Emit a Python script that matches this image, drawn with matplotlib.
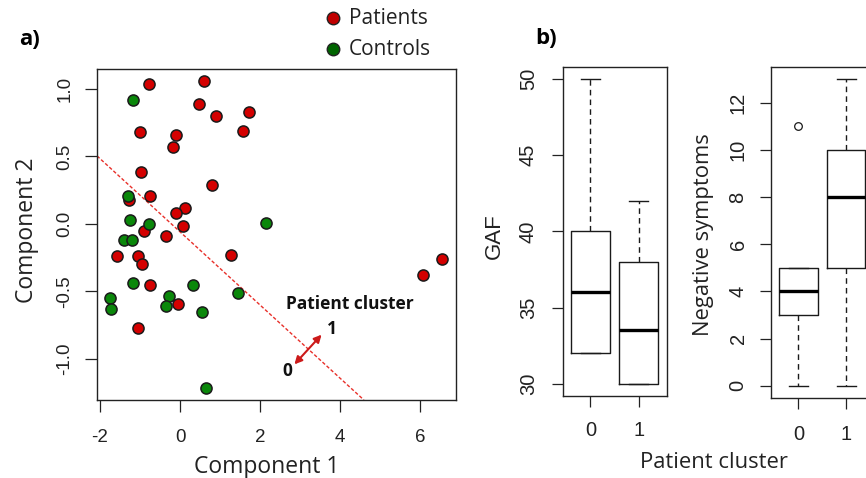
import matplotlib
matplotlib.use("Agg")
import matplotlib.pyplot as plt

plt.rcParams['font.family'] = ['Liberation Sans', 'DejaVu Sans']
plt.rcParams['axes.unicode_minus'] = False

# --- data -------------------------------------------------------------
# panel a) PCA scores
patients_x = [-0.78, 0.60, 0.475, 0.90, 1.72, 1.58, -1.01, -0.09, -0.17, -0.98,
              0.79, -0.74, -1.27, 0.125, -0.09, 0.08, -0.89, -0.34, -1.58, -1.04,
              1.27, -0.94, -0.74, -0.06, -1.05, 6.54, 6.08]
patients_y = [1.04, 1.06, 0.89, 0.80, 0.83, 0.69, 0.68, 0.66, 0.57, 0.385,
              0.29, 0.21, 0.18, 0.12, 0.08, -0.015, -0.05, -0.09, -0.24, -0.24,
              -0.23, -0.30, -0.45, -0.595, -0.77, -0.26, -0.38]
controls_x = [-1.17, -1.31, -1.26, -0.78, -1.41, -1.19, 2.15, -1.17, 0.325, -0.28,
              -0.34, -1.74, -1.73, 0.55, 1.44, 0.65]
controls_y = [0.92, 0.21, 0.03, 0.00, -0.12, -0.12, 0.005, -0.44, -0.45, -0.53,
              -0.61, -0.55, -0.63, -0.65, -0.51, -1.215]

# separating line (intercept, slope) and cluster arrow ends
sep_intercept = -0.058
sep_slope = -0.271
arrow_from = (2.86, -1.04)
arrow_to = (3.54, -0.82)

x_ticks_a = [-2, 0, 2, 4, 6]
y_ticks_a = [-1.0, -0.5, 0.0, 0.5, 1.0]

# panel b) box plot summaries per patient cluster (0, 1)
clusters = ['0', '1']
gaf_low = [32, 30]
gaf_q1 = [32, 30]
gaf_med = [36, 33.5]
gaf_q3 = [40, 38]
gaf_high = [50, 42]
gaf_out = [[], []]

neg_low = [0, 0]
neg_q1 = [3, 5]
neg_med = [4, 8]
neg_q3 = [5, 10]
neg_high = [5, 13]
neg_out = [[11], []]

legend_labels = ['Patients', 'Controls']

RED = '#d40000'
GREEN = '#0a870a'
W, H = 866, 478
CAL = ['Open Sans', 'DejaVu Sans']

fig = plt.figure(figsize=(W / 100, H / 100), dpi=100)


def px_axes(left, top, right, bottom):
    return fig.add_axes([left / W, 1 - bottom / H, (right - left) / W, (bottom - top) / H])


def style_axes(ax, xpad, ypad, tlen, size):
    for s in ax.spines.values():
        s.set_linewidth(1.0)
        s.set_color('#222222')
    ax.tick_params(direction='out', length=tlen, width=0.9, color='#222222',
                   labelsize=size, labelcolor='#222222')
    ax.tick_params(axis='x', pad=xpad)
    ax.tick_params(axis='y', pad=ypad)


# --- a) scatter -----------------------------------------------------------
ax = px_axes(97, 69, 456, 400)
ax.plot(patients_x, patients_y, 'o', ms=8, mfc=RED, mec='#1a1a1a', mew=1.1, zorder=3)
ax.plot(controls_x, controls_y, 'o', ms=8, mfc=GREEN, mec='#1a1a1a', mew=1.1, zorder=3)
ax.axline((0, sep_intercept), slope=sep_slope, color='#e8302a', lw=1.0,
          ls=(0, (2.5, 1.5)), zorder=2)
ax.annotate('', xy=arrow_to, xytext=arrow_from,
            arrowprops=dict(arrowstyle='<|-|>', color='#cc1a1a', lw=1.5,
                            mutation_scale=11, shrinkA=0, shrinkB=0))
ax.text(4.25, -0.59, 'Patient cluster', family=CAL, weight='bold', fontsize=12.5,
        ha='center', va='center', color='#111111')
ax.text(3.81, -0.78, '1', family=CAL, weight='bold', fontsize=12.5,
        ha='center', va='center', color='#111111')
ax.text(2.68, -1.09, '0', family=CAL, weight='bold', fontsize=12.5,
        ha='center', va='center', color='#111111')
ax.set_xlim(-2.075, 6.9)
ax.set_ylim(-1.304, 1.148)
ax.set_xticks(x_ticks_a, [f'{v:d}' for v in x_ticks_a])
ax.set_yticks(y_ticks_a, [f'{v:.1f}' for v in y_ticks_a], rotation=90, va='center')
style_axes(ax, 12, 8.5, 8.6, 13.5)

# --- b) box plots -----------------------------------------------------------
def make_stats(low, q1, med, q3, high, out):
    return [dict(whislo=low[i], q1=q1[i], med=med[i], q3=q3[i], whishi=high[i],
                 fliers=out[i]) for i in range(len(clusters))]


def draw_box(ax, stats):
    ax.bxp(stats, positions=[1, 2], widths=0.8, capwidths=0.4,
           boxprops=dict(color='#1a1a1a', lw=1.0),
           whiskerprops=dict(color='#1a1a1a', lw=1.0, ls=(0, (4, 3))),
           capprops=dict(color='#1a1a1a', lw=1.0),
           medianprops=dict(color='black', lw=2.4, solid_capstyle='butt'),
           flierprops=dict(marker='o', mfc='none', mec='#1a1a1a', ms=5.5, mew=0.9))
    ax.set_xlim(0.42, 2.58)
    ax.set_xticks([1, 2], clusters)


ax_gaf = px_axes(562.5, 66.7, 666.5, 396)
draw_box(ax_gaf, make_stats(gaf_low, gaf_q1, gaf_med, gaf_q3, gaf_high, gaf_out))
ax_gaf.set_ylim(29.2, 50.8)
ax_gaf.set_yticks([30, 35, 40, 45, 50], ['30', '35', '40', '45', '50'], rotation=90, va='center')
style_axes(ax_gaf, 10, 9.5, 8.2, 14.5)

ax_neg = px_axes(770.7, 66.7, 874, 398)
draw_box(ax_neg, make_stats(neg_low, neg_q1, neg_med, neg_q3, neg_high, neg_out))
ax_neg.set_ylim(-0.52, 13.52)
ax_neg.set_yticks([0, 2, 4, 6, 8, 10, 12], ['0', '2', '4', '6', '8', '10', '12'],
                  rotation=90, va='center')
style_axes(ax_neg, 11, 8.5, 8.2, 14.5)

# --- labels and legend (overlay in pixel coordinates) ---------------------
ov = fig.add_axes([0, 0, 1, 1], zorder=5)
ov.set_xlim(0, W)
ov.set_ylim(H, 0)
ov.axis('off')

ov.text(30, 39, 'a)', family=CAL, weight='bold', fontsize=16, ha='center', va='center')
ov.text(546, 38, 'b)', family=CAL, weight='bold', fontsize=16, ha='center', va='center')

ov.text(267, 467, 'Component 1', family=CAL, fontsize=16.5, ha='center', va='center',
        color='#222222')
ov.text(27, 230, 'Component 2', family=CAL, fontsize=16.5, ha='center', va='center',
        rotation=90, color='#222222')
ov.text(494, 236, 'GAF', fontsize=16, ha='center', va='center', rotation=90,
        color='#222222')
ov.text(704, 235, 'Negative symptoms', family=CAL, fontsize=15.8, ha='center',
        va='center', rotation=90, color='#222222')
ov.text(714, 462, 'Patient cluster', family=CAL, fontsize=15.8, ha='center',
        va='center', color='#222222')

for lbl, col, yy in zip(legend_labels, ['#c00000', '#006400'], [18, 49]):
    ov.plot([333], [yy], 'o', ms=9, mfc=col, mec='#222222', mew=1.0)
    ov.text(349, yy, lbl, family=CAL, fontsize=15, ha='left', va='center',
            color='#222222')

fig.savefig('out.png', dpi=100)
